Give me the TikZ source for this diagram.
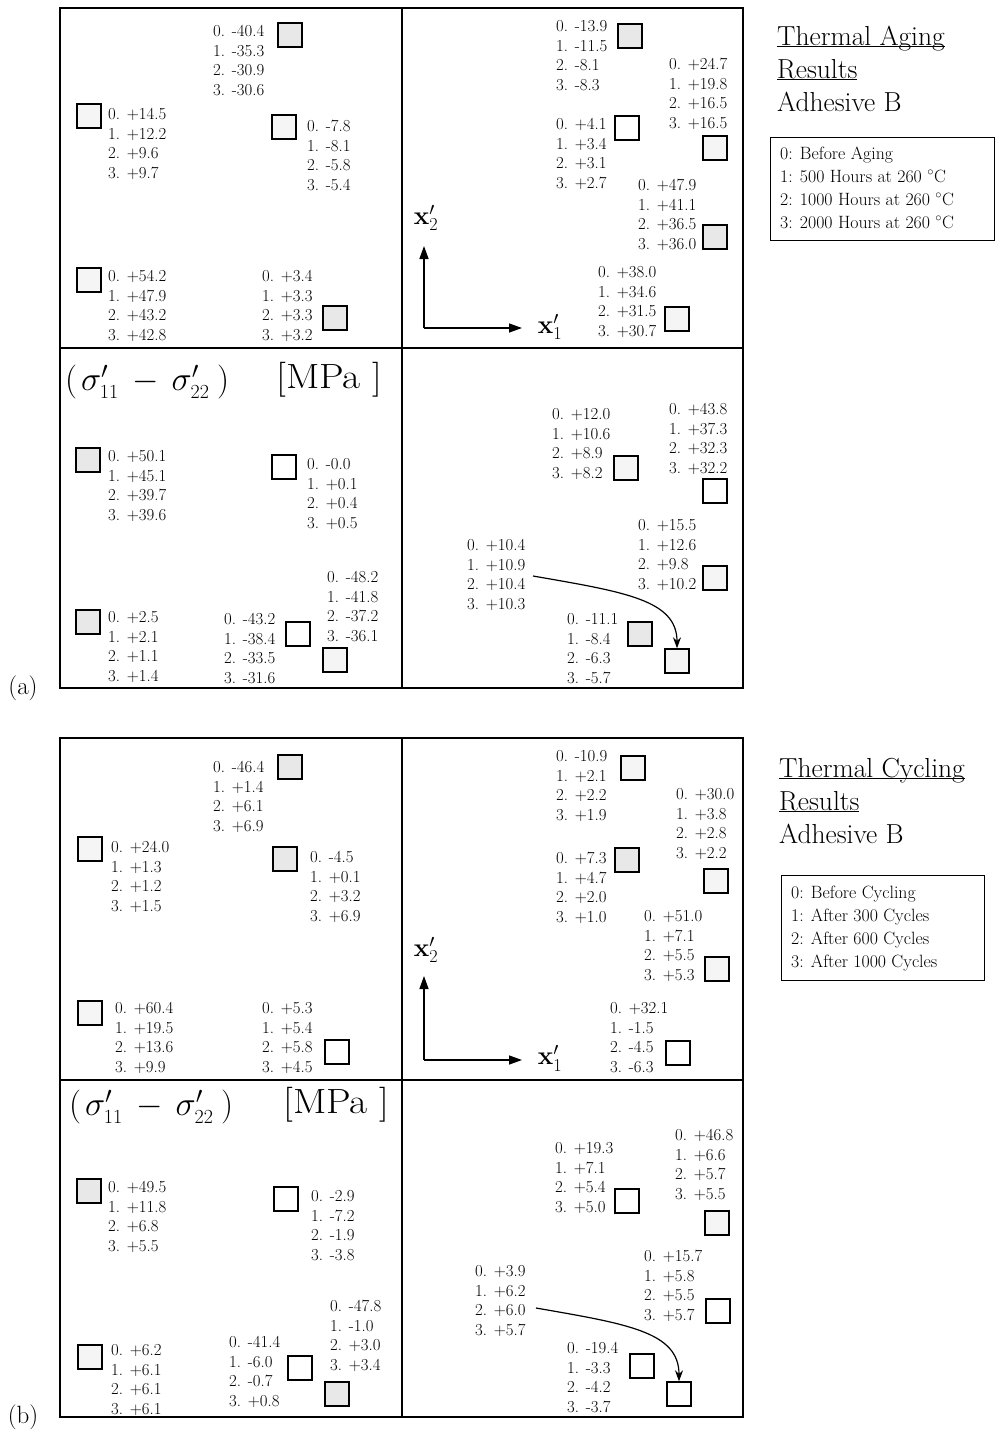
\RequirePackage{fix-cm}
\documentclass[tikz,border=0pt]{standalone}
\usepackage{graphicx}
\usetikzlibrary{arrows.meta}
\newcommand\blk[7]{%
  \node[dat] (#3a) at (#1,#2+5.4) {0. #4};
  \node[dat] (#3b) at (#1,#2+25.1) {1. #5};
  \node[dat] (#3c) at (#1,#2+44.8) {2. #6};
  \node[dat] (#3d) at (#1,#2+64.5) {3. #7};}
\newcommand\ulx[1]{\underline{\smash{#1}}}
\newcommand\sbx[1]{\mbox{\fontsize{20}{20}\selectfont #1}}
\newcommand\siglab{$(\mkern2mu\sigma'_{\sbx{11}}\mkern3mu-\mkern3mu\sigma'_{\sbx{22}}\mkern4mu)$}
\tikzset{
  frame/.style={line width=1.4pt},
  dat/.style={font=\fontsize{16.8}{19}\selectfont, inner sep=0pt, anchor=base west},
  sq/.style={draw, line width=1.4pt, minimum size=24pt, inner sep=0pt},
  sqw/.style={sq, fill=white},
  sql/.style={sq, fill=gray!8},
  sqs/.style={sq, fill=gray!18},
  ax/.style={line width=1.4pt, -{Triangle[length=13pt,width=9pt]}},
  cur/.style={line width=1.2pt, -{Stealth[length=11pt,width=8pt]}},
  axlab/.style={font=\fontsize{26}{26}\selectfont, inner sep=0pt},
  big/.style={font=\fontsize{34}{34}\selectfont, inner sep=0pt, anchor=west},
  mpa/.style={font=\fontsize{35}{35}\selectfont, inner sep=0pt, anchor=west},
  ttl/.style={font=\fontsize{27.5}{30}\selectfont, inner sep=0pt, anchor=base west},
  leg/.style={font=\fontsize{17.8}{20}\selectfont, inner sep=0pt, anchor=base west},
  tag/.style={font=\fontsize{25}{28}\selectfont, inner sep=0pt},
}
\begin{document}
\begin{tikzpicture}[x=1pt,y=-1pt]
\useasboundingbox (0,0) rectangle (995,1432);
\fill[white] (0,0) rectangle (995,1432);

% ================= panel (a) =================
\draw[frame] (60,8) rectangle (743,688);
\draw[frame] (402,8) -- (402,688);
\draw[frame] (60,348) -- (743,348);

\blk{213}{31}{a1t}{-40.4}{-35.3}{-30.9}{-30.6}   \node[sqs] (a1s) at (290,35) {};
\blk{108}{114}{a2t}{+14.5}{+12.2}{+9.6}{+9.7}    \node[sql] (a2s) at (89,116) {};
\blk{307}{126}{a3t}{-7.8}{-8.1}{-5.8}{-5.4}      \node[sql] (a3s) at (284,127) {};
\blk{108}{276}{a4t}{+54.2}{+47.9}{+43.2}{+42.8}  \node[sql] (a4s) at (89,280) {};
\blk{262}{276}{a5t}{+3.4}{+3.3}{+3.3}{+3.2}      \node[sqs] (a5s) at (335,318) {};
\blk{556}{26}{a6t}{-13.9}{-11.5}{-8.1}{-8.3}     \node[sqs] (a6s) at (630,36) {};
\blk{669}{64}{a7t}{+24.7}{+19.8}{+16.5}{+16.5}   \node[sql] (a7s) at (715,148) {};
\blk{556}{124}{a8t}{+4.1}{+3.4}{+3.1}{+2.7}      \node[sqw] (a8s) at (627,128) {};
\blk{638}{185}{a9t}{+47.9}{+41.1}{+36.5}{+36.0}  \node[sqs] (a9s) at (715,237) {};
\blk{598}{272}{a10t}{+38.0}{+34.6}{+31.5}{+30.7} \node[sql] (a10s) at (677,319) {};
\blk{108}{456}{a11t}{+50.1}{+45.1}{+39.7}{+39.6} \node[sqs] (a11s) at (88,460) {};
\blk{307}{464}{a12t}{-0.0}{+0.1}{+0.4}{+0.5}     \node[sqw] (a12s) at (284,467) {};
\blk{327}{577}{a13t}{-48.2}{-41.8}{-37.2}{-36.1} \node[sql] (a13s) at (335,660) {};
\blk{108}{617}{a14t}{+2.5}{+2.1}{+1.1}{+1.4}     \node[sqs] (a14s) at (88,622) {};
\blk{224}{619}{a15t}{-43.2}{-38.4}{-33.5}{-31.6} \node[sqw] (a15s) at (298,634) {};
\blk{552}{414}{a16t}{+12.0}{+10.6}{+8.9}{+8.2}   \node[sql] (a16s) at (626,468) {};
\blk{669}{409}{a17t}{+43.8}{+37.3}{+32.3}{+32.2} \node[sqw] (a17s) at (715,491) {};
\blk{638}{525}{a18t}{+15.5}{+12.6}{+9.8}{+10.2}  \node[sql] (a18s) at (715,578) {};
\blk{467}{545}{a19t}{+10.4}{+10.9}{+10.4}{+10.3} \node[sql] (a19s) at (677,661) {};
\blk{567}{619}{a20t}{-11.1}{-8.4}{-6.3}{-5.7}    \node[sqs] (a20s) at (640,634) {};

\coordinate (a19c) at (533,576);
\draw[cur] (a19c) .. controls (625,592) and (677,600) .. (a19s.north);

\coordinate (ao) at (424,328);
\coordinate (ay) at (424,246);
\coordinate (axx) at (522,328);
\draw[ax] (ao) -- (ay);
\draw[ax] (ao) -- (axx);
\node[axlab] (ax2) at (426,218) {$\mathbf{x}'_2$};
\node[axlab] (ax1) at (550,327) {$\mathbf{x}'_1$};

\node[big] (asig) at (65,382) {\siglab};
\node[mpa] (ampa) at (276,380) {\scalebox{1.12}[1]{[MPa ]}};

\node[ttl] (at1) at (777,45) {\ulx{Thermal Aging}};
\node[ttl] (at2) at (777,78) {\ulx{Results}};
\node[ttl] (at3) at (777,111) {Adhesive B};
\draw[line width=1pt] (770,137) rectangle (994,240);
\node[leg] (al0) at (780,159) {0: Before Aging};
\node[leg] (al1) at (780,182) {1: 500 Hours at 260 $^{\circ}$C};
\node[leg] (al2) at (780,205) {2: 1000 Hours at 260 $^{\circ}$C};
\node[leg] (al3) at (780,228) {3: 2000 Hours at 260 $^{\circ}$C};

\node[tag] (atag) at (23,688) {(a)};

% ================= panel (b) =================
\draw[frame] (60,738) rectangle (743,1417);
\draw[frame] (402,738) -- (402,1417);
\draw[frame] (60,1080) -- (743,1080);

\blk{213}{767}{b1t}{-46.4}{+1.4}{+6.1}{+6.9}      \node[sqs] (b1s) at (290,767) {};
\blk{111}{847}{b2t}{+24.0}{+1.3}{+1.2}{+1.5}      \node[sql] (b2s) at (90,849) {};
\blk{310}{857}{b3t}{-4.5}{+0.1}{+3.2}{+6.9}       \node[sqs] (b3s) at (285,859) {};
\blk{115}{1008}{b4t}{+60.4}{+19.5}{+13.6}{+9.9}   \node[sql] (b4s) at (90,1013) {};
\blk{262}{1008}{b5t}{+5.3}{+5.4}{+5.8}{+4.5}      \node[sqw] (b5s) at (337,1052) {};
\blk{556}{756}{b6t}{-10.9}{+2.1}{+2.2}{+1.9}      \node[sql] (b6s) at (633,768) {};
\blk{676}{794}{b7t}{+30.0}{+3.8}{+2.8}{+2.2}      \node[sql] (b7s) at (716,881) {};
\blk{556}{858}{b8t}{+7.3}{+4.7}{+2.0}{+1.0}       \node[sqs] (b8s) at (627,860) {};
\blk{644}{916}{b9t}{+51.0}{+7.1}{+5.5}{+5.3}      \node[sql] (b9s) at (717,969) {};
\blk{610}{1008}{b10t}{+32.1}{-1.5}{-4.5}{-6.3}    \node[sqw] (b10s) at (678,1053) {};
\blk{108}{1187}{b11t}{+49.5}{+11.8}{+6.8}{+5.5}   \node[sqs] (b11s) at (89,1191) {};
\blk{311}{1196}{b12t}{-2.9}{-7.2}{-1.9}{-3.8}     \node[sqw] (b12s) at (286,1199) {};
\blk{330}{1306}{b13t}{-47.8}{-1.0}{+3.0}{+3.4}    \node[sqs] (b13s) at (337,1394) {};
\blk{111}{1350}{b14t}{+6.2}{+6.1}{+6.1}{+6.1}     \node[sql] (b14s) at (90,1357) {};
\blk{229}{1342}{b15t}{-41.4}{-6.0}{-0.7}{+0.8}    \node[sqw] (b15s) at (300,1368) {};
\blk{555}{1148}{b16t}{+19.3}{+7.1}{+5.4}{+5.0}    \node[sqw] (b16s) at (627,1201) {};
\blk{675}{1135}{b17t}{+46.8}{+6.6}{+5.7}{+5.5}    \node[sql] (b17s) at (717,1223) {};
\blk{644}{1256}{b18t}{+15.7}{+5.8}{+5.5}{+5.7}    \node[sqw] (b18s) at (718,1311) {};
\blk{475}{1271}{b19t}{+3.9}{+6.2}{+6.0}{+5.7}     \node[sqw] (b19s) at (679,1394) {};
\blk{567}{1348}{b20t}{-19.4}{-3.3}{-4.2}{-3.7}    \node[sqw] (b20s) at (642,1366) {};

\coordinate (b19c) at (536,1308);
\draw[cur] (b19c) .. controls (628,1324) and (679,1332) .. (b19s.north);

\coordinate (bo) at (424,1060);
\coordinate (by) at (424,976);
\coordinate (bxx) at (522,1060);
\draw[ax] (bo) -- (by);
\draw[ax] (bo) -- (bxx);
\node[axlab] (bx2) at (426,950) {$\mathbf{x}'_2$};
\node[axlab] (bx1) at (550,1058) {$\mathbf{x}'_1$};

\node[big] (bsig) at (69,1107) {\siglab};
\node[mpa] (bmpa) at (283,1105) {\scalebox{1.12}[1]{[MPa ]}};

\node[ttl] (bt1) at (779,777) {\ulx{Thermal Cycling}};
\node[ttl] (bt2) at (779,810) {\ulx{Results}};
\node[ttl] (bt3) at (779,843) {Adhesive B};
\draw[line width=1pt] (781,875) rectangle (984,980);
\node[leg] (bl0) at (791,898) {0: Before Cycling};
\node[leg] (bl1) at (791,921) {1: After 300 Cycles};
\node[leg] (bl2) at (791,944) {2: After 600 Cycles};
\node[leg] (bl3) at (791,967) {3: After 1000 Cycles};

\node[tag] (btag) at (23,1417) {(b)};
\end{tikzpicture}
\end{document}
